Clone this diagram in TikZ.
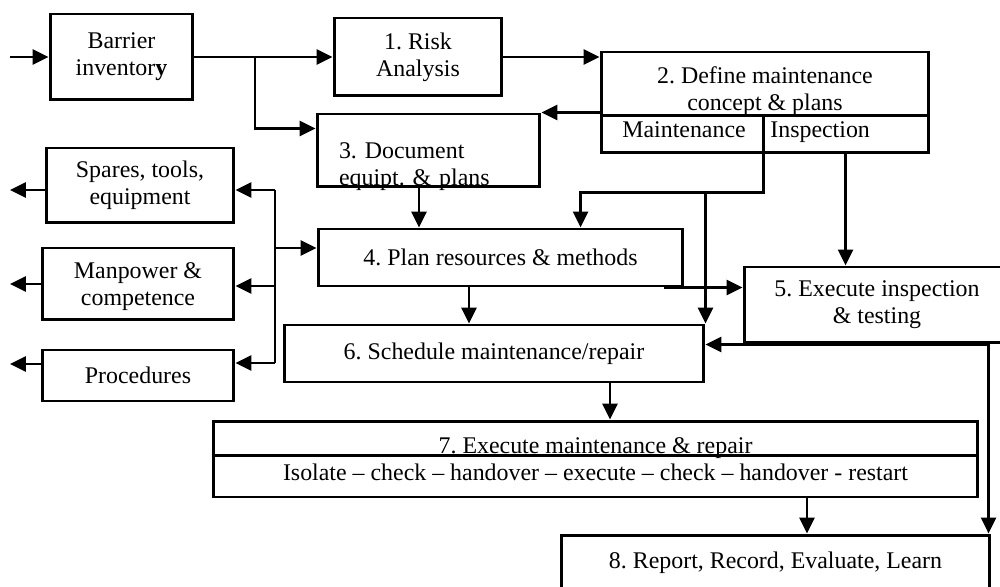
\documentclass[tikz,border=0pt]{standalone}
\usepackage{fontspec}
\setmainfont{Liberation Serif}
\usetikzlibrary{arrows.meta, positioning, calc}
\frenchspacing

\begin{document}
\begin{tikzpicture}[
    % one unit = one step of the grid, y running downwards
    x=0.02cm, y=-0.02cm,
    font=\fontsize{13.6}{15.2}\selectfont,
    >={Triangle[length=0.32cm, width=0.3cm]},
    % Box styles
    stepbox/.style={
      rectangle, draw=black, line width=1.7pt, inner sep=0pt,
      align=center
    },
    plaintext/.style={inner sep=0pt},
    line/.style={line width=1.6pt},
    arr/.style={->, line width=1.6pt},
  ]
  \useasboundingbox (0,0) rectangle (1000,587);

  % ====================================================================
  % TOP ROW
  % ====================================================================
  \node[stepbox, minimum width=2.86cm, minimum height=1.72cm] (barrier) at (121.5,57) {Barrier\\inventor\textbf{y}};
  \node[stepbox, minimum width=3.36cm, minimum height=1.56cm] (risk) at (418,57) {1. Risk\\Analysis};

  % Step 2 with its two outputs
  \node[stepbox, minimum width=6.56cm, minimum height=2.02cm] (define) at (765,102.5) {};
  \node[plaintext, align=center] (definetxt) at (765,91.4) {2. Define maintenance\\concept \& plans};
  \node[plaintext, anchor=base] (mainttxt) at (684,138) {Maintenance};
  \node[plaintext, anchor=base west] (insptxt) at (770,138) {Inspection};
  \draw[line] ($(define.north west)+(0,65)$) -- ($(define.north east)+(0,65)$);
  \draw[line] ($(define.north west)+(164,65)$) -- ($(define.south west)+(164,0)$);

  \node[stepbox, align=left, text width=3.58cm, inner xsep=0.44cm, minimum height=1.46cm, text depth=0pt] (doc) at (428.5,150.5) {3. Document\\equipt. \& plans};

  % ====================================================================
  % RESOURCES (left)
  % ====================================================================
  \node[stepbox, minimum width=3.76cm, minimum height=1.5cm] (spares) at (140,185.5) {Spares, tools,\\equipment};
  \node[stepbox, minimum width=3.84cm, minimum height=1.44cm, text depth=0pt] (manpower) at (138,284) {Manpower \&\\competence};
  \node[stepbox, minimum width=3.84cm, minimum height=1.02cm] (procs) at (138,375.5) {Procedures};

  % ====================================================================
  % MIDDLE
  % ====================================================================
  \node[stepbox, minimum width=7.3cm, minimum height=1.14cm] (plan) at (500.5,257.5) {4. Plan resources \& methods};
  \node[stepbox, minimum width=5.32cm, minimum height=1.52cm] (exec) at (877,305) {5. Execute inspection\\\& testing};
  \node[stepbox, minimum width=8.4cm, minimum height=1.14cm] (sched) at (494,353.5) {6. Schedule maintenance/repair};

  % Step 7 with its sequence
  \node[stepbox, minimum width=15.3cm, minimum height=1.52cm] (repair) at (595.5,459) {};
  \node[plaintext, anchor=base] (repairtxt) at (595.5,453) {7. Execute maintenance \& repair};
  \node[plaintext, anchor=base] (repairsteps) at (595.5,480) {Isolate -- check -- handover -- execute -- check -- handover - restart};
  \draw[line] ($(repair.north west)+(0,36)$) -- ($(repair.north east)+(0,36)$);

  \node[stepbox, minimum width=8.58cm, minimum height=1.12cm] (report) at (775.5,563) {8. Report, Record, Evaluate, Learn};

  % ------- Coordinates -------
  \coordinate (in) at (10,57);
  \coordinate (split) at (255,57);
  \coordinate (mdiv) at ($(define.south west)+(164,0)$);
  \coordinate (mbus) at ($(mdiv)+(0,38)$);
  \coordinate (insp) at ($(define.south west)+(246,0)$);
  \coordinate (d2p) at ($(doc.south)+(-9.5,0)$);
  \coordinate (p2s) at ($(plan.south)+(-31.5,0)$);
  \coordinate (p2e) at ($(plan.south east)+(-20,0)$);
  \coordinate (eout) at ($(exec.south west)+(246,0)$);
  \coordinate (s2r) at ($(sched.south)+(116,0)$);
  \coordinate (r2r) at ($(repair.south)+(211.5,0)$);

  \coordinate (busS) at (275,190);
  \coordinate (busP) at (275,248);
  \coordinate (busM) at (275,286);
  \coordinate (busR) at (275,363);
  \coordinate (outS) at (10,190);
  \coordinate (outM) at (10,284);
  \coordinate (outR) at (10,364);

  % ------- Arrows -------
  \draw[arr] (in) -- (barrier);
  \draw[arr] (barrier) -- (risk);
  \draw[arr] (split) |- ($(doc.north west)+(0,16)$);
  \draw[arr] (risk.east) -- (risk.east -| define.west);
  \draw[arr] (doc.north east -| define.west) -- (doc.north east);

  % Maintenance / inspection outputs
  \draw[arr] (mdiv) -- (mbus) -| ($(plan.north west)+(264,0)$);
  \draw[arr] (mbus -| sched.north east) -- (sched.north east);
  \draw[arr] (insp) -- (insp |- exec.north);

  \draw[arr] (d2p) -- (d2p |- plan.north);
  \draw[arr] (p2s) -- (p2s |- sched.north);
  \draw[arr] (p2e) -- (p2e -| exec.west);
  \draw[arr] (eout) -- (eout -| sched.east);
  \draw[arr] (eout) -- (eout |- report.north);
  \draw[arr] (s2r) -- (s2r |- repair.north);
  \draw[arr] (r2r) -- (r2r |- report.north);

  % Resource bus
  \draw[line] (busS) -- (busR);
  \draw[arr] (busS) -- (busS -| spares.east);
  \draw[arr] (busP) -- (busP -| plan.west);
  \draw[arr] (busM) -- (busM -| manpower.east);
  \draw[arr] (busR) -- (busR -| procs.east);
  \draw[arr] (outS -| spares.west) -- (outS);
  \draw[arr] (outM -| manpower.west) -- (outM);
  \draw[arr] (outR -| procs.west) -- (outR);

\end{tikzpicture}
\end{document}
